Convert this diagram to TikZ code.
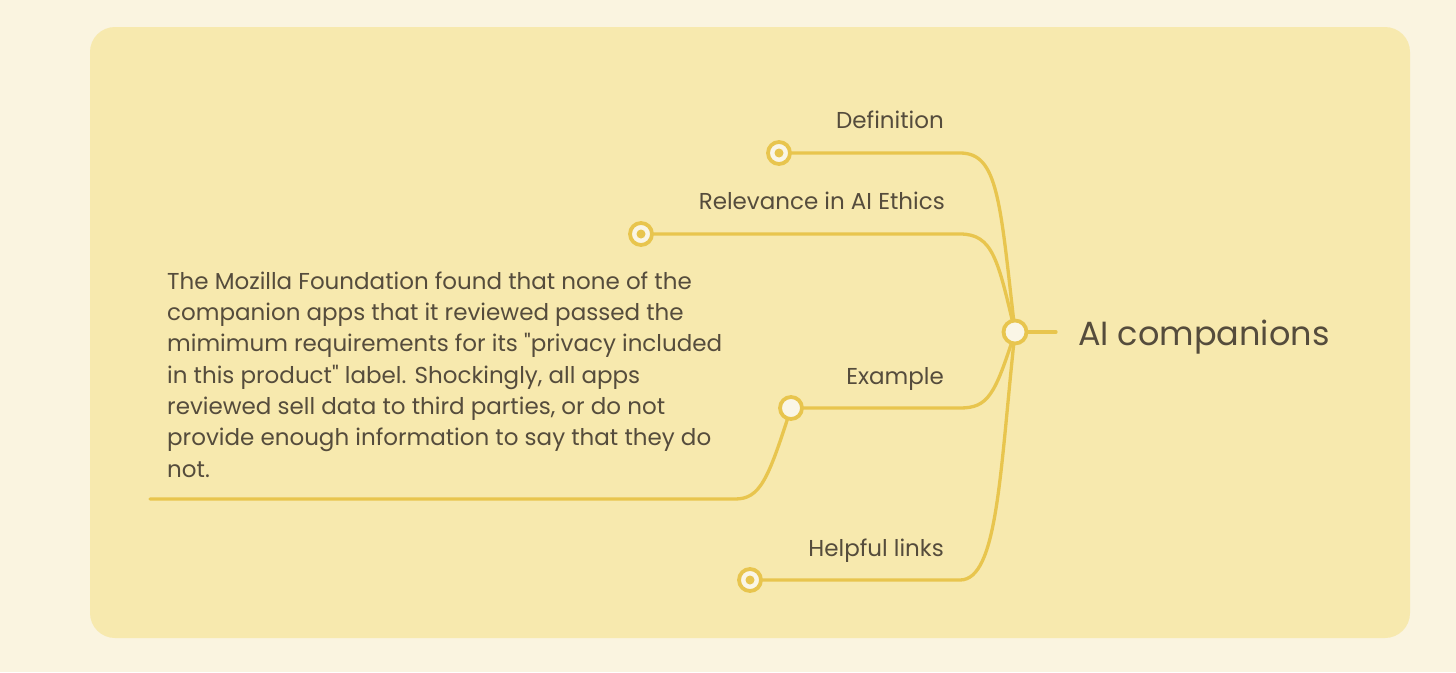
\documentclass[tikz,border=0pt]{standalone}
\usepackage{fontspec}
\setmainfont{Poppins}
\newfontfamily\plainpop{Poppins}
\definecolor{outerbg}{HTML}{FAF4E0}
\definecolor{panel}{HTML}{F7E9AE}
\definecolor{branch}{HTML}{E8C54E}
\definecolor{dotfill}{HTML}{FAF6E6}
\definecolor{ink}{HTML}{554C3C}
\begin{document}
\begin{tikzpicture}[x=1pt,y=-1pt,
  lbl/.style={text=ink,font=\fontsize{23}{27}\selectfont,inner sep=0pt,anchor=base east},
  br/.style={draw=branch,line width=3.3pt,line cap=round},
  leaf/.style={circle,draw=branch,line width=3.8pt,fill=dotfill,minimum size=22pt,inner sep=0pt},
  dotc/.style={circle,fill=branch,minimum size=9pt,inner sep=0pt},
  hub/.style={circle,draw=branch,line width=3.8pt,fill=dotfill,minimum size=23pt,inner sep=0pt}]
\fill[outerbg] (0,0) rectangle (1456,672);
\useasboundingbox (0,0) rectangle (1456,672);
\fill[panel,rounded corners=25pt] (90,27) rectangle (1410,638);
% branches
\coordinate (hubc) at (1015,332);
\coordinate (dtop) at (960,153);
\coordinate (rtop) at (960,234);
\coordinate (etop) at (960,408);
\coordinate (htop) at (960,580);
\coordinate (ebend) at (735,499);
\coordinate (eend) at (150,499);
\coordinate (hubr) at (1056,332);
\draw[br] (hubc) .. controls (1000,200) and (998,153) .. (dtop) -- (779,153);
\draw[br] (hubc) .. controls (998,260) and (993,234) .. (rtop) -- (641,234);
\draw[br] (hubc) .. controls (995,395) and (988,408) .. (etop) -- (791,408);
\draw[br] (hubc) .. controls (1000,470) and (998,580) .. (htop) -- (750,580);
\draw[br] (791,408) .. controls (768,480) and (760,499) .. (ebend) -- (eend);
\draw[br] (hubc) -- (hubr);
% leaf circles
\node[leaf] (ndef) at (779,153) {};
\node[dotc] (ddef) at (ndef) {};
\node[leaf] (nrel) at (641,234) {};
\node[dotc] (drel) at (nrel) {};
\node[leaf] (nex) at (791,408) {};
\node[leaf] (nhelp) at (750,580) {};
\node[dotc] (dhelp) at (nhelp) {};
\node[hub] (root) at (hubc) {};
% labels
\node[lbl] (tdef) at (944,128) {Definition};
\node[lbl] (trel) at (945,209) {Relevance in AI Ethics};
\node[lbl] (tex) at (944,384) {Example};
\node[lbl] (thelp) at (944,556) {Helpful links};
\node[text=ink,font=\fontsize{33.5}{38}\selectfont,inner sep=0pt,anchor=base west] (troot) at (1078,345) {AI companions};
\node[text=ink,font=\plainpop\fontsize{23}{31.3}\selectfont,inner sep=0pt,anchor=base west,align=left] (tlong) at (167,477)
{The Mozilla Foundation found that none of the\\
companion apps that it reviewed passed the\\
mimimum requirements for its "privacy included\\
in this product" label. Shockingly, all apps\\
reviewed sell data to third parties, or do not\\
provide enough information to say that they do\\
not.};
\end{tikzpicture}
\end{document}
